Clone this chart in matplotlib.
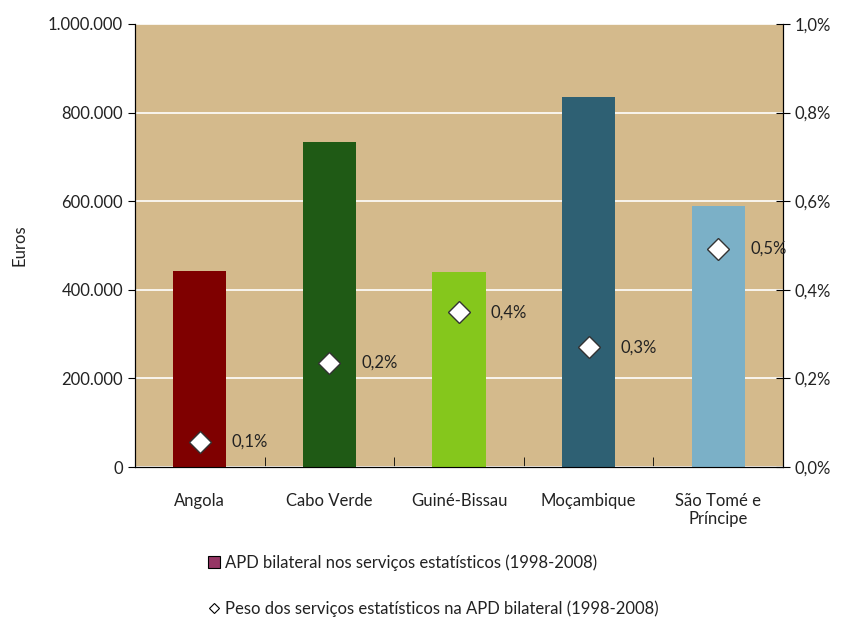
import numpy as np
import matplotlib.pyplot as plt
from matplotlib.patches import Patch
from matplotlib.lines import Line2D
from matplotlib.ticker import FuncFormatter

plt.rcParams['font.family'] = ['Lato', 'DejaVu Sans']

paises = ["Angola", "Cabo Verde", "Guiné-Bissau", "Moçambique", "São Tomé e\nPríncipe"]
apd_euros = [442000, 734000, 440000, 835000, 589000]
peso_pct = [0.057, 0.235, 0.349, 0.270, 0.492]
peso_labels = ["0,1%", "0,2%", "0,4%", "0,3%", "0,5%"]
cores = ["#7F0000", "#1F5A15", "#85C71C", "#2E6073", "#7BB0C7"]

fig = plt.figure(figsize=(8.41, 6.19), dpi=100)
ax = fig.add_axes([135 / 841, 1 - 467 / 619, (783 - 135) / 841, (467 - 24) / 619])
ax.set_facecolor("#D4BA8C")

x = np.arange(len(paises))
ax.bar(x, apd_euros, width=0.41, color=cores, zorder=3)
ax.set_xlim(-0.5, len(paises) - 0.5)
ax.set_ylim(0, 1000000)
ax.set_yticks(np.arange(0, 1000001, 200000))
ax.yaxis.set_major_formatter(FuncFormatter(lambda v, p: f"{int(v):,}".replace(",", ".")))
ax.grid(axis="y", color="white", linewidth=1.2, zorder=1)
ax.set_axisbelow(True)
ax.set_xticks(x)
ax.set_xticklabels(paises, fontsize=12, color="#222222", linespacing=1.1)
ax.tick_params(axis="x", length=0, pad=19)
ax.set_xticks(np.arange(-0.5, len(paises)), minor=True)
ax.tick_params(axis="x", which="minor", direction="in", length=7, color="black")
ax.tick_params(axis="y", labelsize=12, labelcolor="#222222", length=5)
ax.set_ylabel("Euros", fontsize=12, color="#222222", labelpad=15)
ax.spines["top"].set_visible(False)

ax2 = ax.twinx()
ax2.set_ylim(0, 1.0)
ax2.set_yticks(np.arange(0, 1.01, 0.2))
ax2.yaxis.set_major_formatter(FuncFormatter(lambda v, p: f"{v:.1f}%".replace(".", ",")))
ax2.tick_params(axis="y", labelsize=12, labelcolor="#222222", direction="inout", length=10)
ax2.spines["top"].set_visible(False)
ax2.plot(x, peso_pct, linestyle="none", marker="D", markersize=11,
         markerfacecolor="white", markeredgecolor="#333333", markeredgewidth=1, zorder=5)
for xi, yi, lab in zip(x, peso_pct, peso_labels):
    ax2.annotate(lab, (xi, yi), xytext=(23, 0), textcoords="offset points",
                 va="center", ha="left", fontsize=12, color="#222222")

handles = [
    Patch(facecolor="#953564", edgecolor="black", linewidth=0.8),
    Line2D([], [], linestyle="none", marker="D", markersize=5.5,
           markerfacecolor="white", markeredgecolor="black", markeredgewidth=0.8),
]
labels = ["APD bilateral nos serviços estatísticos (1998-2008)",
          "Peso dos serviços estatísticos na APD bilateral (1998-2008)"]
fig.legend(handles, labels, loc="upper left", bbox_to_anchor=(193 / 841, 1 - 539 / 619),
           frameon=False, fontsize=12, labelspacing=1.8, handlelength=0.7,
           handletextpad=0.3, labelcolor="#222222")

fig.savefig("out.png", dpi=100)
